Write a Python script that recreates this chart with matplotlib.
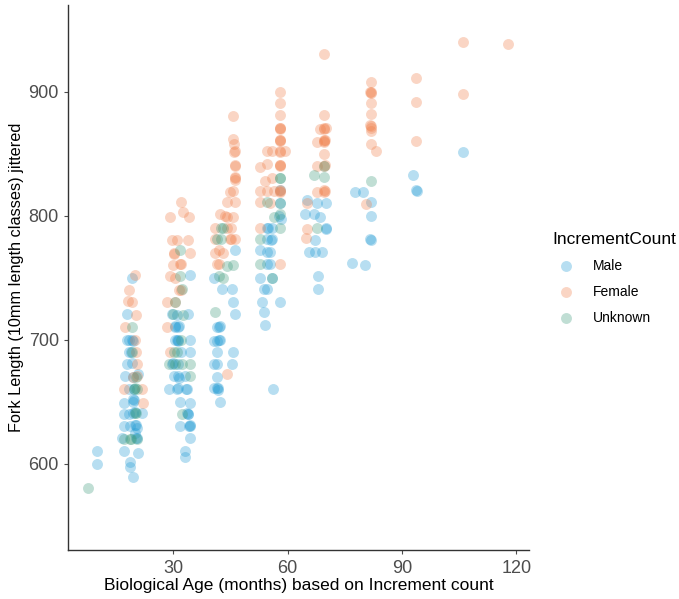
import matplotlib.pyplot as plt

plt.rcParams['font.family'] = ['Liberation Sans', 'DejaVu Sans']

# ages (months) and fork lengths (mm)
male_age = [10.0, 10.0,
            19.2, 17.9, 18.3, 19.2, 19.5, 18.5, 17.9, 19.3, 17.4, 20.8, 18.3, 17.0, 19.5, 19.6,
            17.0, 21.8, 20.0, 17.0, 18.8, 20.2, 20.5, 20.0, 20.5, 16.6, 17.0, 20.9, 18.7, 18.6, 19.5,
            19.8, 19.6, 20.0, 19.7, 18.0, 19.0, 20.3, 19.5, 18.3,
            34.3, 34.0, 29.6, 30.5, 30.6, 31.4, 30.5, 30.9, 31.3, 34.3, 29.6, 29.9, 30.1, 31.4, 31.5,
            28.8, 31.0, 31.3, 33.7, 31.8, 34.3, 33.6, 33.8, 31.8, 34.3, 34.3, 34.3, 33.1, 33.1,
            31.4, 31.6, 31.3, 33.0, 33.5, 34.0, 34.2, 31.0, 32.0, 34.3,
            46.3, 40.6, 42.8, 45.4, 45.8, 46.3, 41.9, 42.2, 40.6, 41.5, 42.0, 41.5, 45.8, 40.6, 41.5,
            41.5, 40.6, 41.5, 41.8, 42.3, 41.6, 42.4, 41.7, 45.5,
            57.9, 58.0, 57.8, 58.2, 54.6, 55.9, 54.6, 55.7, 52.8, 54.6, 55.5, 54.6, 52.8, 53.7, 54.6,
            53.3, 58.1, 53.7, 54.1, 56.1, 55.9, 55.5, 56.0, 54.9,
            65.1, 67.7, 70.0, 64.6, 67.0, 68.4, 70.0, 70.2, 67.2, 65.5, 67.2, 69.0, 68.1, 68.1,
            77.7, 79.9, 81.9, 81.8, 81.7, 81.8, 76.9, 80.2,
            93.0, 93.8, 93.9, 105.9]
male_len = [610, 600,
            750, 721, 700, 700, 699, 690, 680, 681, 671, 672, 660, 649, 652, 650,
            640, 641, 642, 630, 630, 631, 629, 625, 621, 621, 610, 609, 601, 597, 589,
            660, 641, 631, 651, 700, 690, 621, 670, 640,
            752, 721, 721, 710, 711, 710, 700, 700, 699, 690, 680, 681, 671, 671, 669,
            660, 660, 661, 660, 650, 649, 641, 640, 630, 630, 631, 621, 610, 605,
            700, 711, 680, 671, 660, 640, 630, 720, 690, 700,
            772, 750, 741, 741, 730, 721, 710, 711, 699, 699, 700, 690, 690, 680, 680,
            670, 661, 661, 659, 650, 710, 700, 661, 680,
            821, 810, 800, 797, 790, 790, 781, 780, 772, 771, 771, 761, 750, 741, 741,
            730, 730, 722, 712, 660, 781, 761, 750, 790,
            813, 810, 810, 801, 801, 799, 789, 790, 780, 771, 771, 771, 751, 741,
            819, 819, 811, 800, 781, 780, 762, 760,
            833, 821, 820, 851]

female_age = [20.0, 19.3, 18.1, 17.4, 20.3, 20.6, 17.0, 21.8, 22.2, 20.5,
              19.5, 20.0, 18.5, 20.2,
              32.1, 32.7, 34.1, 29.2, 31.0, 34.0, 30.1, 31.9, 34.3, 29.2, 28.4, 28.4, 29.2, 30.0,
              30.5, 32.0, 30.1, 32.0, 29.8, 31.5, 30.5,
              45.8, 45.8, 46.0, 46.1, 46.1, 46.1, 46.2, 45.0, 46.1, 44.1, 42.3, 44.1, 45.8, 41.0,
              45.3, 41.0, 45.3, 46.3, 42.0, 41.0, 42.0, 41.5, 44.1,
              46.1, 46.1, 46.0, 45.8, 44.0, 45.0, 43.0, 43.5,
              57.9, 57.9, 57.9, 57.9, 58.0, 57.9, 58.0, 54.6, 55.9, 57.9, 59.4, 57.9, 58.0, 54.6,
              52.8, 54.1, 52.8, 54.6, 56.4, 57.9, 58.0, 52.8, 52.8, 57.9,
              57.9, 57.9, 57.9, 57.9, 58.0, 56.0, 55.5,
              69.6, 69.6, 69.6, 70.0, 68.4, 69.6, 69.7, 69.5, 67.7, 69.6, 69.6, 69.7, 67.7, 69.6,
              69.7, 67.7, 65.1, 65.1, 64.9, 69.6, 69.6, 69.6,
              81.8, 81.7, 81.8, 81.8, 81.8, 81.7, 81.8, 81.9, 81.8, 83.2, 80.5, 81.8, 81.8,
              93.8, 93.8, 93.8, 105.9, 105.9, 117.9]
female_len = [752, 730, 731, 710, 690, 680, 660, 660, 649, 671,
              670, 700, 740, 720,
              811, 803, 799, 799, 780, 780, 769, 761, 770, 751, 730, 710, 690, 760,
              730, 740, 770, 761, 780, 740, 750,
              880, 862, 858, 852, 840, 830, 829, 819, 811, 811, 801, 799, 799, 790,
              790, 781, 781, 781, 772, 770, 761, 761, 672,
              841, 831, 851, 820, 790, 781, 770, 800,
              900, 891, 881, 871, 870, 860, 861, 852, 852, 852, 852, 840, 841, 842,
              839, 828, 820, 820, 820, 820, 819, 811, 790, 761,
              871, 861, 841, 821, 851, 830, 810,
              930, 881, 870, 871, 870, 860, 861, 859, 859, 850, 840, 841, 840, 819,
              820, 819, 810, 789, 782, 871, 861, 821,
              908, 900, 899, 891, 882, 873, 871, 868, 858, 852, 809, 900, 872,
              911, 892, 860, 940, 898, 938]

unknown_age = [7.8,
               19.3, 19.2, 20.3, 20.4, 20.2, 17.0, 18.7, 20.4, 20.0, 19.8, 20.0, 19.0,
               31.9, 32.3, 31.8, 30.6, 30.0, 30.1, 28.8, 32.3, 34.3, 34.3, 32.3, 32.0,
               31.0, 30.5, 32.5,
               43.2, 41.5, 42.5, 44.1, 45.8, 42.0, 41.0, 42.5, 43.0,
               57.9, 57.9, 54.6, 57.9, 56.4, 52.8, 52.8, 55.9, 57.9, 57.9,
               69.6, 69.6, 67.0, 67.7,
               81.8]
unknown_len = [580,
               710, 690, 670, 660, 641, 620, 620, 620, 661, 660, 641, 620,
               772, 741, 751, 730, 721, 690, 680, 680, 680, 671, 640, 700,
               690, 680, 720,
               790, 781, 781, 759, 760, 751, 722, 790, 750,
               830, 810, 811, 801, 799, 781, 761, 750, 830, 790,
               840, 831, 833, 790,
               828]

fig = plt.figure(figsize=(6.79, 5.99), dpi=100)
ax = fig.add_axes([0.100, 0.081, 0.679, 0.911])

ax.scatter(male_age, male_len, s=62, color='#1f9ad4', alpha=0.32, linewidths=0, label='Male')
ax.scatter(female_age, female_len, s=62, color='#f07f4a', alpha=0.32, linewidths=0, label='Female')
ax.scatter(unknown_age, unknown_len, s=62, color='#3c9a7c', alpha=0.32, linewidths=0, label='Unknown')

ax.set_xlim(2.4, 123.3)
ax.set_ylim(530, 970)
ax.set_xticks([30, 60, 90, 120])
ax.set_yticks([600, 700, 800, 900])
ax.tick_params(labelsize=13, colors='#4d4d4d', length=3, width=0.8)
for s in ['top', 'right']:
    ax.spines[s].set_visible(False)
for s in ['left', 'bottom']:
    ax.spines[s].set_color('#333333')
    ax.spines[s].set_linewidth(1.0)

ax.set_xlabel('Biological Age (months) based on Increment count', fontsize=12.5, labelpad=1)
ax.set_ylabel('Fork Length (10mm length classes) jittered', fontsize=11.7, labelpad=3)

leg = fig.legend(loc='center left', bbox_to_anchor=(0.795, 0.535), frameon=False,
                 title='IncrementCount', title_fontsize=12.5, fontsize=10,
                 handletextpad=0.9, labelspacing=0.85, alignment='left')

fig.savefig('out.png', dpi=100)
